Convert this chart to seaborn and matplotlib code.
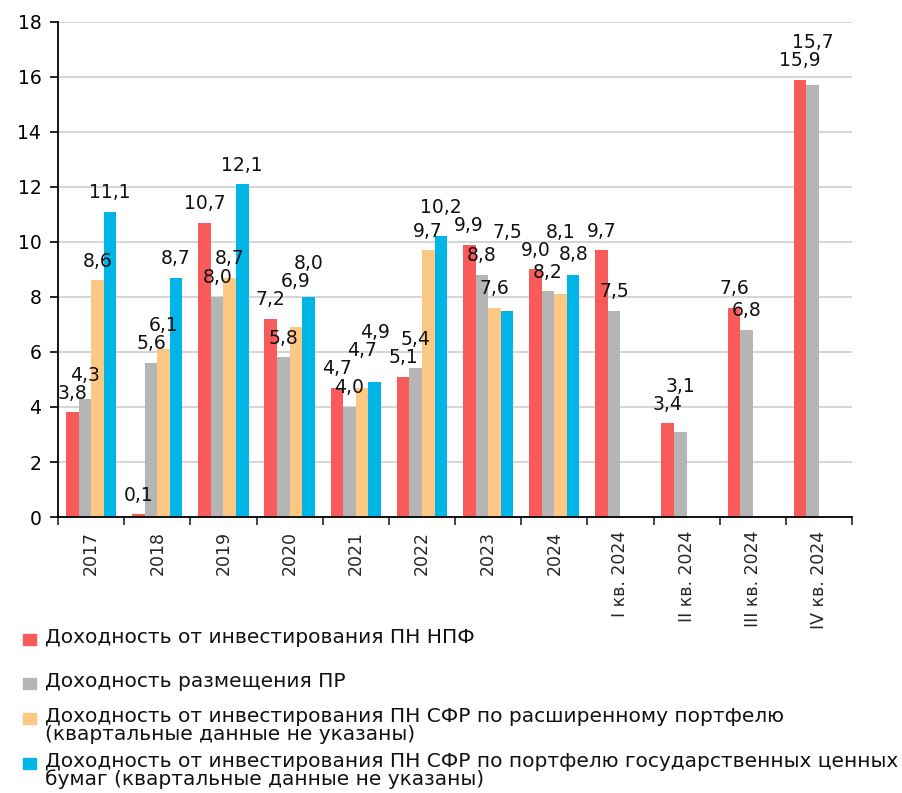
import numpy as np
import pandas as pd
import matplotlib
matplotlib.use('Agg')
import matplotlib.pyplot as plt
import seaborn as sns
from matplotlib.patches import Rectangle


# Chart data
periods = ['2017', '2018', '2019', '2020', '2021', '2022', '2023', '2024',
           'I кв. 2024', 'II кв. 2024', 'III кв. 2024', 'IV кв. 2024']
npf_yield = [3.8, 0.1, 10.7, 7.2, 4.7, 5.1, 9.9, 9.0, 9.7, 3.4, 7.6, 15.9]
pr_yield = [4.3, 5.6, 8.0, 5.8, 4.0, 5.4, 8.8, 8.2, 7.5, 3.1, 6.8, 15.7]
# SFR series have annual values only
sfr_ext_yield = [8.6, 6.1, 8.7, 6.9, 4.7, 9.7, 7.6, 8.1]
sfr_gov_yield = [11.1, 8.7, 12.1, 8.0, 4.9, 10.2, 7.5, 8.8]

series_names = [
    'Доходность от инвестирования ПН НПФ',
    'Доходность размещения ПР',
    'Доходность от инвестирования ПН СФР по расширенному портфелю\n(квартальные данные не указаны)',
    'Доходность от инвестирования ПН СФР по портфелю государственных ценных\nбумаг (квартальные данные не указаны)',
]
colors = ['#F95A5A', '#B5B5B5', '#FDC883', '#00B6E8']


def build_frame():
    rows = []
    for name, vals in zip(series_names, [npf_yield, pr_yield, sfr_ext_yield, sfr_gov_yield]):
        for period, v in zip(periods, vals):
            rows.append({'period': period, 'series': name, 'value': v})
    return pd.DataFrame(rows)


def fmt_ru(v):
    return f'{v:.1f}'.replace('.', ',')


def place_labels(ax, fig):
    # label each bar above its top, pushing up labels that would collide with others
    fig.canvas.draw()
    renderer = fig.canvas.get_renderer()
    base_px = ax.transData.transform((0, 0))[1]
    px_per_unit = ax.transData.transform((0, 1))[1] - base_px
    boxes = []
    for cont in ax.containers:
        for bar in cont:
            h = bar.get_height()
            if np.isnan(h):
                continue
            xc = bar.get_x() + bar.get_width() / 2
            y = h + 0.35
            t = ax.text(xc, y, fmt_ru(h), ha='center', va='bottom', fontsize=13.5, color='#111111')
            bb = t.get_window_extent(renderer)
            w_px, h_px = bb.width, bb.height * 0.9
            x0 = bb.x0
            for _ in range(12):
                y0_px = base_px + y * px_per_unit
                hit = None
                for bx0, bx1, by0, by1 in boxes:
                    if x0 < bx1 and x0 + w_px > bx0 and y0_px < by1 and y0_px + h_px > by0:
                        hit = by1
                        break
                if hit is None:
                    break
                y = (hit + 1 - base_px) / px_per_unit
            t.set_y(y)
            y0_px = base_px + y * px_per_unit
            boxes.append((x0, x0 + w_px, y0_px, y0_px + h_px))


def main():
    df = build_frame()

    sns.set_style('white')
    plt.rcParams['font.family'] = ['DejaVu Sans']

    fig = plt.figure(figsize=(9.02, 7.93), dpi=100)
    ax = fig.add_axes([0.0643, 0.348, 0.8803, 0.6245])

    sns.barplot(data=df, x='period', y='value', hue='series', order=periods,
                hue_order=series_names, palette=colors, saturation=1, width=0.76,
                errorbar=None, legend=False, linewidth=0, ax=ax)

    ax.set_ylim(0, 18)
    ax.set_xlim(-0.5, len(periods) - 0.5)
    ax.set_yticks(range(0, 19, 2))
    ax.yaxis.grid(True, color='#d2d2d2', lw=1.3)
    ax.set_axisbelow(True)
    ax.set_xlabel('')
    ax.set_ylabel('')

    for s in ['top', 'right']:
        ax.spines[s].set_visible(False)
    ax.spines['left'].set_color('black')
    ax.spines['bottom'].set_color('black')
    ax.spines['left'].set_linewidth(1.3)
    ax.spines['bottom'].set_linewidth(1.3)

    ax.tick_params(axis='y', which='major', left=True, length=6, width=1.2,
                   labelsize=13.5, colors='black', pad=6)
    ax.set_xticks(range(len(periods)))
    ax.set_xticklabels(periods, rotation=90, fontsize=12.5)
    ax.tick_params(axis='x', which='major', length=0, pad=10)
    ax.set_xticks(np.arange(-0.5, len(periods), 1), minor=True)
    ax.tick_params(axis='x', which='minor', bottom=True, length=6, width=1.2)

    place_labels(ax, fig)

    # Legend below the chart
    legend_tops = [632, 676, 711, 756]
    for name, color, top in zip(series_names, colors, legend_tops):
        fig.patches.append(Rectangle((23 / 902, 1 - (top + 13) / 793), 13 / 902, 11 / 793,
                                     transform=fig.transFigure, color=color))
        fig.text(45 / 902, 1 - (top - 4) / 793, name, va='top', ha='left',
                 fontsize=14.5, linespacing=0.92, color='#111111')

    fig.savefig('out.png', dpi=100)


if __name__ == "__main__":
    main()
